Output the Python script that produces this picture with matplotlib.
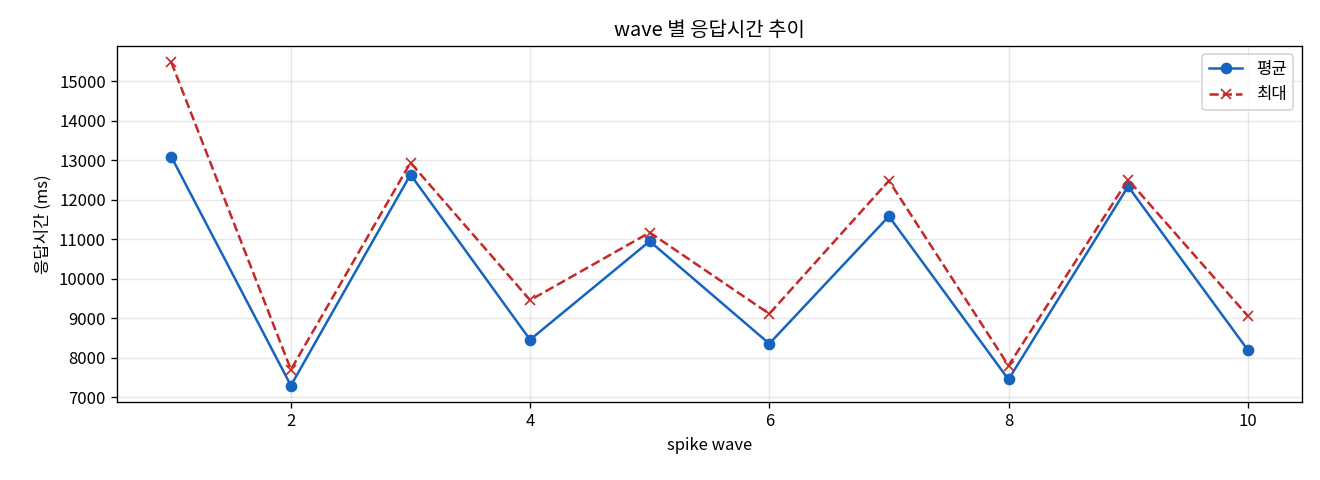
import matplotlib
matplotlib.use("Agg")
import matplotlib.pyplot as plt

plt.rcParams['font.family'] = ['Noto Sans CJK KR', 'DejaVu Sans']
plt.rcParams['axes.unicode_minus'] = False

# data
waves = [1, 2, 3, 4, 5, 6, 7, 8, 9, 10]
avg_ms = [13085, 7300, 12635, 8460, 10950, 8360, 11580, 7455, 12335, 8205]
max_ms = [15475, 7705, 12935, 9460, 11170, 9115, 12480, 7805, 12505, 9065]

fig, ax = plt.subplots(figsize=(11, 4), dpi=120)
ax.plot(waves, avg_ms, marker='o', color='#1565C0', label='평균')
ax.plot(waves, max_ms, marker='x', linestyle='--', color='#C62828', label='최대')

ax.set_title('wave 별 응답시간 추이')
ax.set_xlabel('spike wave')
ax.set_ylabel('응답시간 (ms)')
ax.grid(True, alpha=0.3)
ax.legend(loc='upper right')

fig.subplots_adjust(left=0.089, right=0.986, top=0.904, bottom=0.163)
fig.savefig('out.png')
